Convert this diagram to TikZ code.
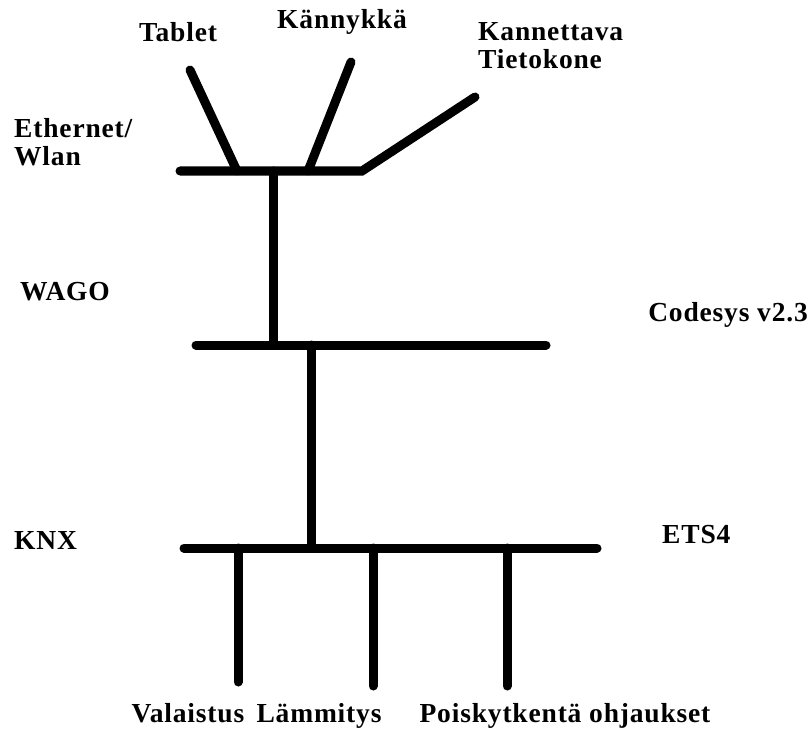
\documentclass[tikz,border=0pt]{standalone}
\usepackage{fontspec}
\setmainfont{Liberation Serif}[LetterSpace=3]
\usetikzlibrary{positioning}

\begin{document}
\begin{tikzpicture}[x=1pt, y=-1pt,
	bus/.style={line width=9pt, line cap=round},
	lbl/.style={font=\fontsize{27.5}{28}\selectfont\bfseries, inner sep=0pt, align=left}]
	\useasboundingbox (0,0) rectangle (810,730);

	% labels
	\node[lbl] (tablet) at (178,32) {Tablet};
	\node[lbl] (phone) at (342,22) {Kännykkä};
	\node[lbl, anchor=west] (laptop) at (478,46) {Kannettava\\Tietokone};
	\node[lbl, anchor=west] (eth) at (14,142) {Ethernet/\\Wlan};
	\node[lbl, anchor=west] (wago) at (20,292) {WAGO};
	\node[lbl, anchor=east] (codesys) at (808,315) {Codesys v2.3};
	\node[lbl, anchor=west] (knx) at (14,540) {KNX};
	\node[lbl, anchor=west] (ets) at (662,535) {ETS4};
	\node[lbl, anchor=base] (light) at (188,722) {Valaistus};
	\node[lbl, anchor=base] (heat) at (319,722) {Lämmitys};
	\node[lbl, anchor=base] (ctrl) at (565,722) {Poiskytkentä ohjaukset};

	% bus ends and taps
	\coordinate (ethW) at (180,171);
	\coordinate (ethE) at (362,171);
	\coordinate (lapEnd) at (475,97);
	\coordinate (tabTop) at (190,70);
	\coordinate (tabFoot) at (237,171);
	\coordinate (phTop) at (351,62);
	\coordinate (phFoot) at (308,171);
	\coordinate (up1) at (273,171);
	\coordinate (wagoW) at (196,345);
	\coordinate (wagoE) at (546,345);
	\coordinate (dn1) at (273,345);
	\coordinate (up2) at (311,345);
	\coordinate (knxW) at (184,548);
	\coordinate (knxE) at (597,548);
	\coordinate (dn2) at (311,548);
	\coordinate (t1) at (238,548);
	\coordinate (t2) at (373,548);
	\coordinate (t3) at (507,548);
	\coordinate (e1) at (238,682);
	\coordinate (e2) at (373,686);
	\coordinate (e3) at (507,686);

	\draw[bus] (ethW) -- (ethE) -- (lapEnd);
	\draw[bus] (tabTop) -- (tabFoot);
	\draw[bus] (phTop) -- (phFoot);
	\draw[bus] (up1) -- (dn1);
	\draw[bus] (wagoW) -- (wagoE);
	\draw[bus] (up2) -- (dn2);
	\draw[bus] (knxW) -- (knxE);
	\draw[bus] (t1) -- (e1);
	\draw[bus] (t2) -- (e2);
	\draw[bus] (t3) -- (e3);
\end{tikzpicture}
\end{document}
